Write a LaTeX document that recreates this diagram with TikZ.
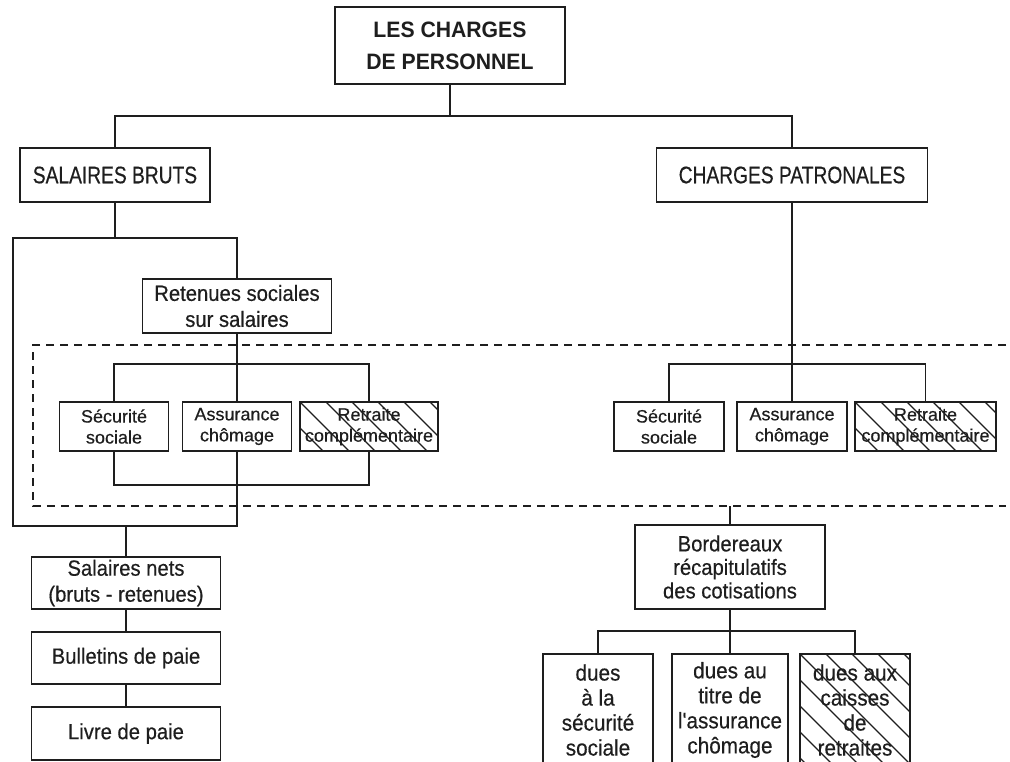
\documentclass[tikz,border=0pt]{standalone}
\usepackage{fontspec}
\newfontfamily\fT[FakeStretch=0.95]{Liberation Sans}
\newfontfamily\fA[FakeStretch=0.8,FakeBold=0.4]{Liberation Sans}
\newfontfamily\fB[FakeStretch=0.92,FakeBold=0.4]{Liberation Sans}
\newfontfamily\fC[FakeBold=0.4]{Liberation Sans}
\definecolor{ink}{HTML}{1E1E1E}
\begin{document}
\begin{tikzpicture}[x=1pt,y=-1pt,
  conn/.style={draw=ink,line width=1.8pt},
  dashline/.style={draw=ink,line width=1.8pt,dash pattern=on 8pt off 6pt},
  box/.style={draw=ink,line width=1.8pt,rectangle,inner sep=0pt,align=center,text=ink,fill=white},
  hatchline/.style={draw=ink,line width=1.3pt},
  hatched/.style={path picture={\foreach \k in {-312,-286,...,312}{\draw[hatchline] ([xshift=\k pt]path picture bounding box.north west) -- ++(220,220);}}},
  ttl/.style={font={\fT\bfseries\fontsize{22.3}{32}\selectfont}},
  caps/.style={font={\fA\fontsize{24}{27}\selectfont}},
  med/.style={font={\fB\fontsize{22}{26}\selectfont}},
  sml/.style={font={\fC\fontsize{18}{21}\selectfont}},
  bord/.style={font={\fB\fontsize{22}{23.5}\selectfont}},
  dues/.style={font={\fB\fontsize{22.5}{25}\selectfont}}
]
\useasboundingbox (0,0) rectangle (1010,761);
\clip (0,0) rectangle (1010,761);
\fill[white] (0,0) rectangle (1010,761);

% dashed zone
\draw[dashline] (1006,345) -- (33,345) -- (33,506) -- (1006,506);

% nodes
\node[box,ttl,minimum width=230pt,minimum height=77pt] (T) at (450,45.5) {LES CHARGES\\DE PERSONNEL};
\node[box,caps,minimum width=190pt,minimum height=54pt] (SB) at (115,175) {SALAIRES BRUTS};
\node[box,caps,minimum width=271pt,minimum height=54pt] (CP) at (792,175) {CHARGES PATRONALES};

\node[box,med,minimum width=189pt,minimum height=54pt] (R) at (237,306) {Retenues sociales\\sur salaires};

\node[box,sml,minimum width=109pt,minimum height=49pt] (SS1) at (114,426.5) {Sécurité\\sociale};
\node[box,sml,minimum width=109pt,minimum height=49pt] (AC1) at (237,426.5) {Assurance\\chômage};
\node[box,sml,hatched,minimum width=138pt,minimum height=49pt] (RC1) at (369,426.5) {Retraite\\complémentaire};

\node[box,sml,minimum width=110pt,minimum height=49pt] (SS2) at (669,426.5) {Sécurité\\sociale};
\node[box,sml,minimum width=110pt,minimum height=49pt] (AC2) at (792,426.5) {Assurance\\chômage};
\node[box,sml,hatched,minimum width=141pt,minimum height=49pt] (RC2) at (925.5,426.5) {Retraite\\complémentaire};

\node[box,med,minimum width=189pt,minimum height=52pt] (SN) at (126,583) {Salaires nets\\(bruts - retenues)};
\node[box,med,minimum width=189pt,minimum height=52pt] (BP) at (126,658) {Bulletins de paie};
\node[box,med,minimum width=189pt,minimum height=53pt] (LP) at (126,733.5) {Livre de paie};

\node[box,bord,minimum width=190pt,minimum height=84pt] (B) at (730,567) {Bordereaux\\récapitulatifs\\des cotisations};

\node[box,dues,minimum width=110pt,minimum height=112pt] (D1) at (598,710) {dues\\à la\\sécurité\\sociale};
\node[box,dues,minimum width=116pt,minimum height=112pt] (D2) at (730,710) {dues au\\titre de\\l'assurance\\chômage};
\node[box,dues,hatched,minimum width=110pt,minimum height=112pt] (D3) at (855,710) {dues aux\\caisses\\de\\retraites};

% coordinates
\coordinate (tb) at (450,116);
\coordinate (ltl) at (13,238);
\coordinate (ltr) at (237,238);
\coordinate (lbl) at (13,526);
\coordinate (lbr) at (237,526);
\coordinate (b1) at (237,364);
\coordinate (b2) at (237,485);
\coordinate (b3) at (792,364);
\coordinate (dk) at (730,506);
\coordinate (b4) at (730,631);

% connectors
\draw[conn] (T.south) -- (tb);
\draw[conn] (SB.north) |- (tb) -| (CP.north);
\draw[conn] (SB.south) -- (SB.south |- ltl);
\draw[conn] (R.north) -- (ltr) -- (ltl) -- (lbl) -- (lbr) -- (AC1.south);
\draw[conn] (R.south) -- (AC1.north);
\draw[conn] (SS1.north) |- (b1) -| (RC1.north);
\draw[conn] (SS1.south) |- (b2) -| (RC1.south);
\draw[conn] (SN.north) -- (SN.north |- lbl);
\draw[conn] (SN.south) -- (BP.north);
\draw[conn] (BP.south) -- (LP.north);

\draw[conn] (CP.south) -- (AC2.north);
\draw[conn] (SS2.north) |- (b3) -| (RC2.north);
\draw[conn] (dk) -- (B.north);
\draw[conn] (B.south) -- (D2.north);
\draw[conn] (D1.north) |- (b4) -| (D3.north);
\end{tikzpicture}
\end{document}
